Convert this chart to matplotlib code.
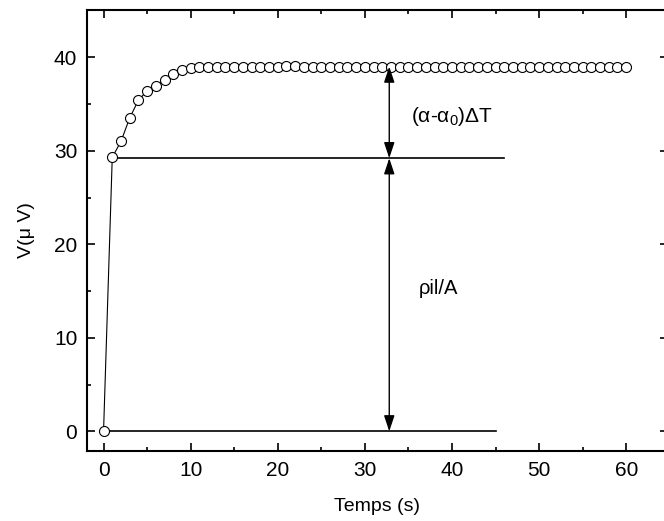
import matplotlib
matplotlib.use("Agg")
import matplotlib.pyplot as plt
from matplotlib.ticker import MultipleLocator

plt.rcParams["font.family"] = ["Liberation Sans", "DejaVu Sans"]
plt.rcParams["mathtext.fontset"] = "custom"
plt.rcParams["mathtext.rm"] = "Liberation Sans"

# Data =================================================
time_s = [0, 1, 2, 3, 4, 5, 6, 7, 8, 9, 10,
          11, 12, 13, 14, 15, 16, 17, 18, 19, 20,
          21, 22, 23, 24, 25, 26, 27, 28, 29, 30,
          31, 32, 33, 34, 35, 36, 37, 38, 39, 40,
          41, 42, 43, 44, 45, 46, 47, 48, 49, 50,
          51, 52, 53, 54, 55, 56, 57, 58, 59, 60]
volt_uv = [0.0, 29.3, 31.0, 33.5, 35.4, 36.4, 36.9, 37.6, 38.2, 38.6, 38.8,
           38.9, 39.0, 39.0, 39.0, 39.0, 39.0, 39.0, 39.0, 39.0, 39.0,
           39.1, 39.1, 39.0, 39.0, 39.0, 39.0, 39.0, 39.0, 39.0, 39.0,
           39.0, 39.0, 39.0, 39.0, 39.0, 39.0, 39.0, 39.0, 39.0, 39.0,
           39.0, 39.0, 39.0, 39.0, 39.0, 39.0, 39.0, 39.0, 39.0, 39.0,
           39.0, 39.0, 39.0, 39.0, 39.0, 39.0, 39.0, 39.0, 39.0, 39.0]

# reference lines (x start, x end, level)
base_line = (0, 45, 0.0)
step_line = (1, 46, 29.2)
arrow_x = 32.8
top_level = 39.0

# =======================================================

fig = plt.figure(figsize=(6.64, 5.21), dpi=100)
ax = fig.add_axes([87 / 664, 70 / 521, 581 / 664, 441.5 / 521])

ax.plot(time_s, volt_uv, color="black", lw=0.8, marker="o", ms=7.2,
        mfc="white", mec="black", mew=0.8, zorder=3)

ax.plot(base_line[:2], [base_line[2]] * 2, color="black", lw=1.2)
ax.plot(step_line[:2], [step_line[2]] * 2, color="black", lw=1.2)

arrow_props = dict(arrowstyle="<|-|>,head_length=0.6,head_width=0.2",
                   color="black", lw=1.0, mutation_scale=16,
                   shrinkA=0, shrinkB=0)
ax.annotate("", xy=(arrow_x, top_level), xytext=(arrow_x, step_line[2]),
            arrowprops=arrow_props)
ax.annotate("", xy=(arrow_x, step_line[2]), xytext=(arrow_x, base_line[2]),
            arrowprops=arrow_props)

ax.text(35.3, 33.7, "(α-α$_{0}$)ΔT", fontsize=15, va="center", ha="left")
ax.text(36.2, 15.3, "ρil/A", fontsize=14.5, va="center", ha="left")

ax.set_xlim(-1.9, 64.8)
ax.set_ylim(-2.1, 45.1)
ax.xaxis.set_major_locator(MultipleLocator(10))
ax.xaxis.set_minor_locator(MultipleLocator(5))
ax.yaxis.set_major_locator(MultipleLocator(10))
ax.yaxis.set_minor_locator(MultipleLocator(5))
ax.tick_params(which="both", direction="in", top=True, right=True,
               width=1.2, labelsize=15)
ax.tick_params(which="major", length=6, pad=7)
ax.tick_params(which="minor", length=3)
for sp in ax.spines.values():
    sp.set_linewidth(1.5)

ax.set_xlabel("Temps (s)", fontsize=14)
ax.set_ylabel("V(μ V)", fontsize=14)
ax.xaxis.set_label_coords(0.5, -0.106)
ax.yaxis.set_label_coords(-0.09, 0.5)

fig.savefig("out.png", dpi=100)
